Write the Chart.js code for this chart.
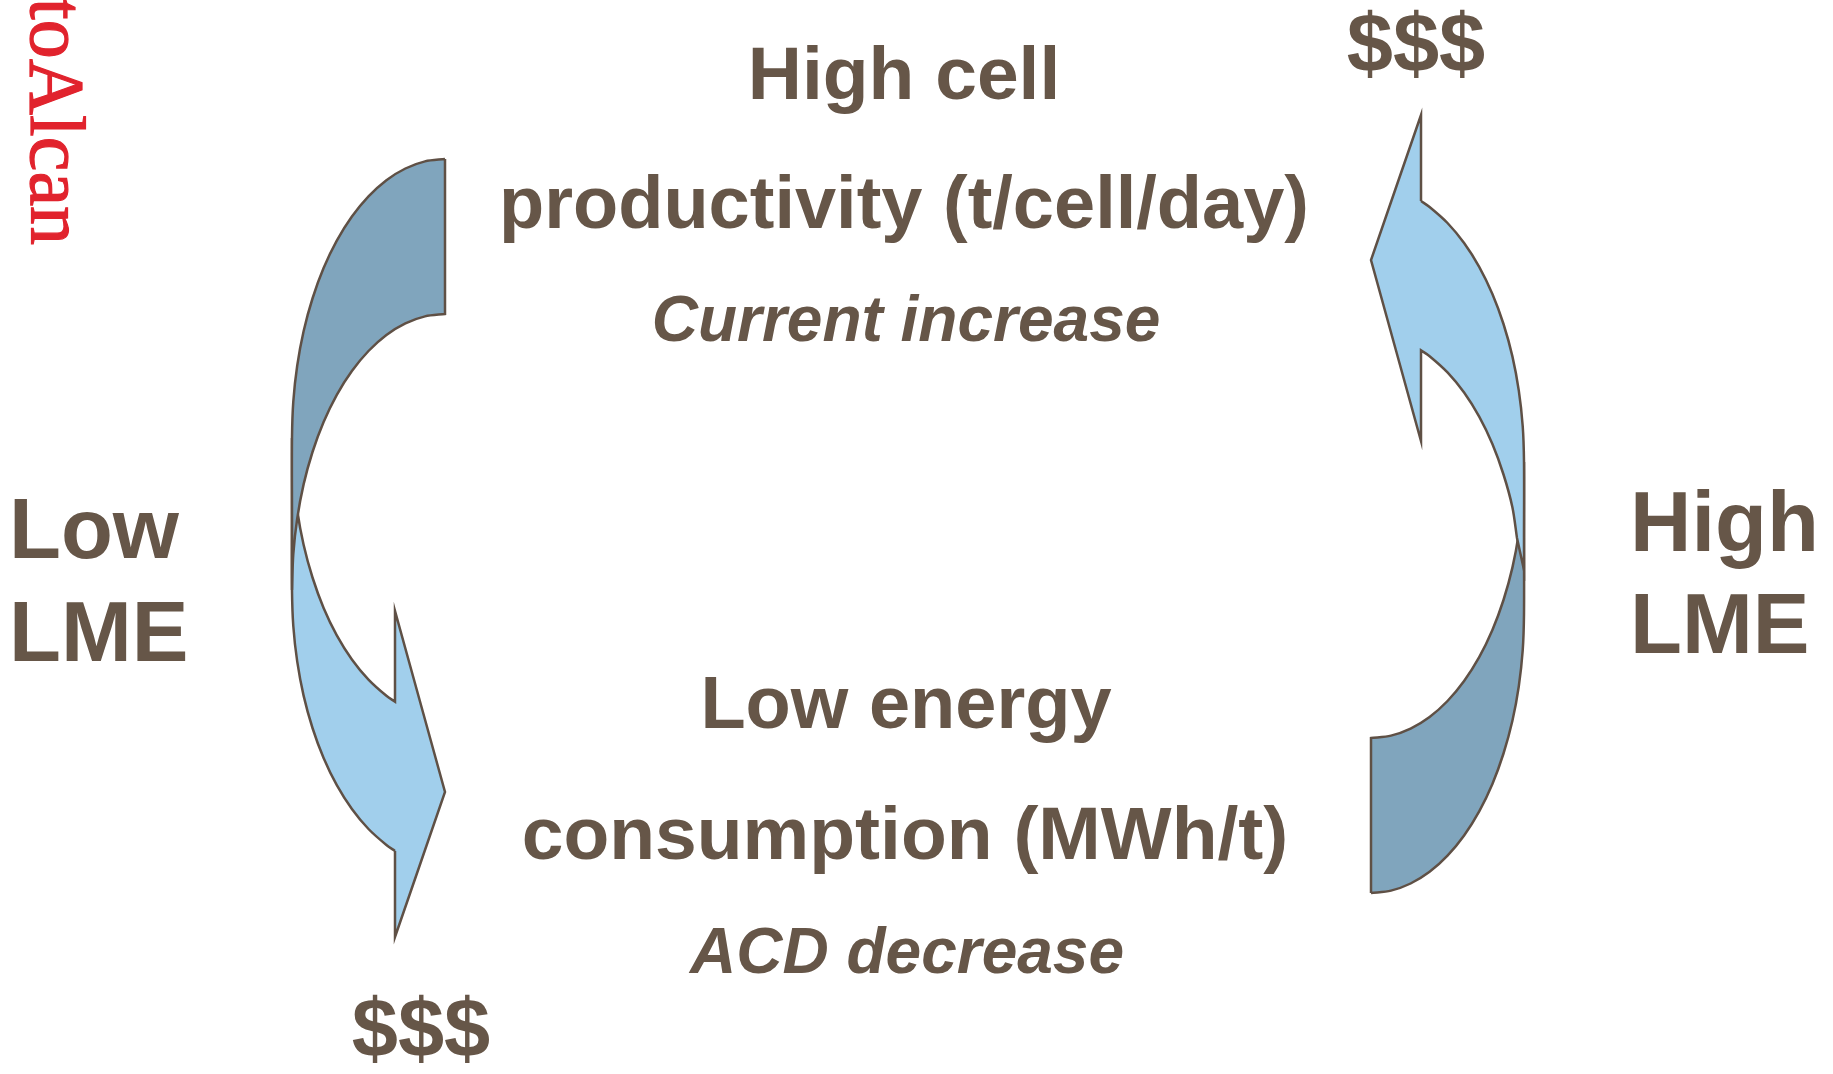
<!DOCTYPE html>
<html>
<head>
<meta charset="utf-8">
<script src="https://cdn.jsdelivr.net/npm/chart.js@4.4.1/dist/chart.umd.min.js"></script>
<style>
  html, body { margin: 0; padding: 0; background: #ffffff; }
  #wrap { width: 1833px; height: 1074px; position: relative; }
</style>
</head>
<body>
<div id="wrap"><canvas id="cycleChart"></canvas></div>
<script>
// Outline points of the two curved arrows (x, y in picture pixels).
// Repeated points mark sharp corners so the spline stays straight there.
const leftBackBand = [
  [445, 159], [425, 161.4], [405.4, 168.5], [386.4, 180.2], [368.5, 196.4], [351.9, 216.6],
  [336.8, 240.7], [323.6, 268.1], [312.5, 298.5], [303.6, 331.2], [297.2, 365.8], [293.3, 401.6],
  [292, 438], [292, 514], [292, 590], [292, 590],
  [293.3, 554], [297.2, 518.6], [303.6, 484.4], [312.5, 452], [323.6, 422], [336.8, 394.8],
  [351.9, 371], [368.5, 351], [386.4, 335], [405.4, 323.4], [425, 316.4],
  [445, 314], [445, 314],
  [445, 159]
];
const leftFrontBand = [
  [395, 851], [386.4, 845], [368.5, 829], [351.9, 809], [336.8, 785.2], [323.6, 758],
  [312.5, 728], [303.6, 695.6], [297.2, 661.4], [293.3, 626],
  [292, 590], [292, 514], [292, 438], [292, 438],
  [293.3, 474.4], [297.2, 510.2], [303.6, 544.8], [312.5, 577.5], [323.6, 607.9], [336.8, 635.3],
  [351.9, 659.4], [368.5, 679.6], [386.4, 695.8],
  [395, 701.6], [395, 701.6],
  [395, 611], [395, 611], [445, 792], [445, 792], [395, 937], [395, 937],
  [395, 851]
];
const rightBackBand = [
  [1371, 893], [1391, 890.6], [1410.6, 883.5], [1429.6, 871.8], [1447.5, 855.6], [1464.1, 835.4],
  [1479.2, 811.3], [1492.4, 783.9], [1503.5, 753.5], [1512.4, 720.8], [1518.8, 686.2], [1522.7, 650.4],
  [1524, 614], [1524, 538], [1524, 462], [1524, 462],
  [1522.7, 498], [1518.8, 533.4], [1512.4, 567.6], [1503.5, 600], [1492.4, 630], [1479.2, 657.2],
  [1464.1, 681], [1447.5, 701], [1429.6, 717], [1410.6, 728.6], [1391, 735.6],
  [1371, 738], [1371, 738],
  [1371, 893]
];
const rightFrontBand = [
  [1421, 201], [1429.6, 207], [1447.5, 223], [1464.1, 243], [1479.2, 266.8], [1492.4, 294],
  [1503.5, 324], [1512.4, 356.4], [1518.8, 390.6], [1522.7, 426],
  [1524, 462], [1524, 538], [1524, 570], [1524, 570],
  [1517, 538], [1517, 538],
  [1512.4, 507.2], [1503.5, 474.5], [1492.4, 444.1], [1479.2, 416.7], [1464.1, 392.6],
  [1447.5, 372.4], [1429.6, 356.2],
  [1421, 350.4], [1421, 350.4],
  [1421, 441], [1421, 441], [1371, 260], [1371, 260], [1421, 115], [1421, 115],
  [1421, 201]
];

// Texts of the diagram
const topTexts = ['High cell', 'productivity (t/cell/day)', 'Current increase'];
const bottomTexts = ['Low energy', 'consumption (MWh/t)', 'ACD decrease'];
const leftTexts = ['Low', 'LME'];
const rightTexts = ['High', 'LME'];
const moneyText = '$$$';
const sourceText = 'toAlcan';

const BROWN = '#665648';
const OUTLINE = '#5f5045';
const DARK_BLUE = '#80a5bd';
const LIGHT_BLUE = '#a1cfec';

const bold = size => `bold ${size}px "Liberation Sans", Arial, sans-serif`;
const boldItalic = size => `italic bold ${size}px "Liberation Sans", Arial, sans-serif`;

// Where each text sits (picture pixels)
const textLayout = [
  { text: topTexts[0], x: 904, y: 99, font: bold(75), align: 'center' },
  { text: topTexts[1], x: 904, y: 228, font: bold(74), align: 'center' },
  { text: topTexts[2], x: 906, y: 341, font: boldItalic(64), align: 'center' },
  { text: bottomTexts[0], x: 906, y: 728, font: bold(74), align: 'center' },
  { text: bottomTexts[1], x: 905, y: 859, font: bold(75), align: 'center' },
  { text: bottomTexts[2], x: 907, y: 973, font: boldItalic(64), align: 'center' },
  { text: leftTexts[0], x: 9, y: 558, font: bold(85), align: 'left' },
  { text: leftTexts[1], x: 9, y: 661, font: bold(85), align: 'left' },
  { text: rightTexts[0], x: 1630, y: 551, font: bold(85), align: 'left' },
  { text: rightTexts[1], x: 1630, y: 653, font: bold(85), align: 'left' },
  { text: moneyText, x: 1416, y: 72, font: bold(83), align: 'center' },
  { text: moneyText, x: 421, y: 1057, font: bold(83), align: 'center' }
];

const toPoints = arr => arr.map(([x, y]) => ({ x, y }));

function band(label, points, fillColor) {
  return {
    label,
    data: toPoints(points),
    borderColor: OUTLINE,
    backgroundColor: fillColor,
    borderWidth: 2.5,
    borderJoinStyle: 'miter',
    fill: 'shape',
    tension: 0.3,
    pointRadius: 0,
    clip: false
  };
}

// Draws the labels through the chart scales
const textPlugin = {
  id: 'diagramText',
  afterDatasetsDraw(chart) {
    const { ctx, scales: { x, y } } = chart;
    ctx.save();
    ctx.fillStyle = BROWN;
    ctx.textBaseline = 'alphabetic';
    textLayout.forEach(t => {
      ctx.font = t.font;
      ctx.textAlign = t.align;
      ctx.fillText(t.text, x.getPixelForValue(t.x), y.getPixelForValue(t.y));
    });
    // vertical red source text on the left edge
    ctx.translate(x.getPixelForValue(31), y.getPixelForValue(245));
    ctx.rotate(Math.PI / 2);
    ctx.font = '78px "Liberation Serif", "Times New Roman", serif';
    ctx.fillStyle = '#e1232d';
    ctx.strokeStyle = '#e1232d';
    ctx.lineWidth = 1.2;
    ctx.textAlign = 'right';
    ctx.fillText(sourceText, 0, 0);
    ctx.strokeText(sourceText, 0, 0);
    ctx.restore();
  }
};

document.addEventListener('DOMContentLoaded', () => {
  const ctx = document.getElementById('cycleChart').getContext('2d');
  new Chart(ctx, {
    type: 'line',
    data: {
      datasets: [
        band('left back', leftBackBand, DARK_BLUE),
        band('left front', leftFrontBand, LIGHT_BLUE),
        band('right front', rightFrontBand, LIGHT_BLUE),
        band('right back', rightBackBand, DARK_BLUE)
      ]
    },
    options: {
      responsive: true,
      maintainAspectRatio: false,
      animation: false,
      events: [],
      layout: { padding: 0 },
      scales: {
        x: { type: 'linear', min: 0, max: 1833, display: false },
        y: { type: 'linear', min: 0, max: 1074, reverse: true, display: false }
      },
      plugins: {
        legend: { display: false },
        tooltip: { enabled: false }
      }
    },
    plugins: [textPlugin]
  });
});
</script>
</body>
</html>
